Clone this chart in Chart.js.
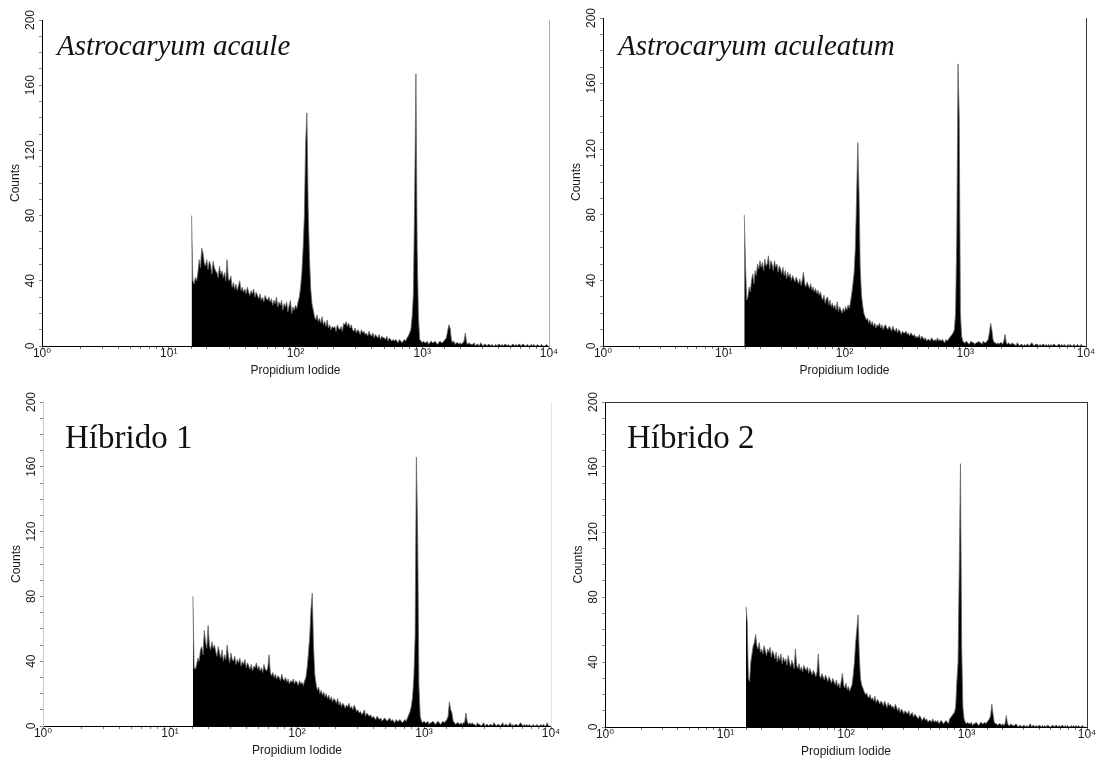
<!DOCTYPE html>
<html>
<head>
<meta charset="utf-8">
<script src="https://cdn.jsdelivr.net/npm/chart.js@4/dist/chart.umd.min.js"></script>
<style>
  html, body { margin: 0; padding: 0; background: #fff; }
  #page { position: relative; width: 1098px; height: 761px; overflow: hidden; }
  canvas { position: absolute; }
</style>
</head>
<body>
<div id="page">
  <canvas id="p1" width="560" height="380" style="left:0;top:0"></canvas>
  <canvas id="p2" width="543" height="380" style="left:555px;top:0"></canvas>
  <canvas id="p3" width="560" height="381" style="left:0;top:380px"></canvas>
  <canvas id="p4" width="543" height="381" style="left:555px;top:380px"></canvas>
</div>
<script>
// histogram channels: log10 position of first channel and channel width (in decades)
const channelLog0 = 1.10;
const channelLogStep = 0.01;

// counts per channel, one row = 0.1 decade (1.1, 1.2, ... 3.9)
const acauleCounts = [
  null,null,null,null,null,null,null,null,80,40,
  38,42,40,45,53,48,60,57,51,49,
  53,47,52,50,44,52,48,46,45,42,
  49,44,46,42,45,40,53,41,40,43,
  36,39,35,38,34,37,40,34,36,33,
  35,32,36,33,31,34,32,35,30,33,
  31,29,32,28,30,27,31,29,28,30,
  27,29,25,28,26,30,24,27,25,28,
  22,26,24,27,21,25,28,20,24,22,
  25,23,27,30,36,45,60,80,125,143,
  85,55,35,26,22,18,16,19,15,17,
  14,18,13,15,12,16,11,13,10,12,
  11,12,9,13,11,10,12,9,14,13,
  15,12,14,11,13,10,9,11,8,10,
  9,7,10,8,9,7,8,6,9,7,
  6,8,5,7,6,5,7,4,6,5,
  5,4,6,3,5,4,3,4,3,4,
  3,2,4,3,2,3,4,3,5,6,
  8,10,18,32,90,167,60,18,4,3,
  2,3,2,2,3,1,2,3,2,2,
  3,2,1,2,3,2,2,3,4,5,
  9,13,11,4,2,3,1,2,2,1,
  2,1,2,3,8,2,1,2,1,1,
  1,2,0,1,1,0,2,1,0,1,
  1,0,1,1,0,1,0,0,1,0,
  1,1,0,1,0,1,1,0,1,0,
  0,1,1,0,1,0,1,1,0,1,
  1,0,0,1,0,0,1,0,1,0,
  0,1,0,0,1,0,0,0,1,0
];

const aculeatumCounts = [
  null,null,null,null,null,null,null,80,50,28,
  30,36,33,40,44,38,46,43,50,47,
  52,48,51,46,53,49,50,55,47,52,
  50,46,52,48,50,45,49,47,44,48,
  43,46,41,45,42,44,40,43,41,39,
  42,40,38,41,37,40,45,38,36,39,
  37,35,38,34,36,33,35,32,34,31,
  33,30,28,31,26,29,30,25,28,24,
  26,23,25,22,27,21,24,22,20,23,
  21,24,22,25,23,27,32,38,45,60,
  90,124,95,48,32,25,20,18,16,17,
  14,16,13,15,12,14,11,13,12,14,
  11,13,10,12,13,11,10,12,11,9,
  12,10,9,11,8,10,9,7,9,8,
  8,9,7,8,6,8,7,6,7,5,
  6,5,7,4,6,5,4,5,3,4,
  4,3,5,4,3,4,3,5,3,4,
  3,4,3,2,4,3,4,5,6,7,
  8,10,20,67,172,140,20,6,3,2,
  2,3,2,1,2,3,2,2,1,2,
  2,3,2,2,1,3,2,2,3,4,
  8,14,10,4,2,2,1,2,1,2,
  2,1,3,7,2,1,2,1,1,2,
  1,1,0,2,1,0,1,1,0,1,
  0,1,1,0,1,2,1,0,1,1,
  1,0,1,0,1,1,0,1,0,1,
  0,1,0,1,1,0,0,1,1,0,
  1,0,1,0,0,1,0,1,0,0,
  1,0,0,1,0,0,1,0,0,0
];

const hibrido1Counts = [
  null,null,null,null,null,null,null,null,80,36,
  35,38,42,40,47,49,44,59,52,48,
  62,50,47,52,48,50,46,43,49,45,
  42,47,40,44,41,50,43,39,45,41,
  40,43,38,41,39,42,37,40,38,41,
  36,39,37,35,38,34,37,36,39,35,
  37,34,36,33,38,35,34,36,44,33,
  31,33,30,32,29,31,30,28,32,29,
  28,30,27,29,26,28,27,29,26,28,
  27,25,28,26,27,25,28,30,36,45,
  55,72,82,50,32,26,22,24,20,22,
  19,21,18,20,17,19,16,18,15,17,
  16,14,17,13,15,12,14,13,11,13,
  12,14,11,12,10,13,11,9,10,8,
  9,7,8,10,6,8,7,6,7,5,
  6,5,4,6,5,4,5,3,4,5,
  4,3,4,5,3,4,3,2,4,3,
  3,4,3,2,3,4,3,5,7,9,
  12,18,30,55,166,120,25,6,3,2,
  3,2,2,3,1,2,2,3,2,1,
  2,3,2,1,2,3,2,3,4,6,
  15,10,8,3,2,1,2,2,1,2,
  1,2,2,8,3,1,2,1,2,1,
  1,0,2,1,1,0,1,2,0,1,
  1,0,1,1,0,2,1,0,1,1,
  0,1,2,0,1,1,0,1,2,0,
  1,0,1,1,0,1,2,1,0,1,
  0,1,0,1,0,0,1,0,0,1,
  0,0,1,0,1,0,0,2,0,0
];

const hibrido2Counts = [
  null,null,null,null,null,null,null,74,65,30,
  28,40,45,50,52,57,50,48,52,46,
  48,45,50,47,44,48,46,49,43,47,
  45,42,46,40,44,41,45,39,43,40,
  42,38,44,40,37,41,39,36,48,38,
  36,39,35,37,34,38,36,35,37,33,
  36,34,32,35,33,31,34,45,32,30,
  33,31,29,32,30,28,31,29,27,30,
  28,26,29,25,27,24,28,33,26,24,
  27,23,25,22,24,26,32,40,52,60,
  69,45,30,26,24,22,20,21,19,18,
  20,17,18,16,19,15,17,16,14,16,
  15,13,16,14,12,15,13,14,12,13,
  11,14,12,10,12,9,11,10,8,10,
  9,8,10,7,8,9,6,8,7,6,
  5,7,6,4,5,6,4,5,3,4,
  4,3,5,3,4,3,4,2,3,4,
  3,2,3,4,3,2,5,6,7,8,
  9,12,28,40,100,162,50,12,5,3,
  2,3,2,2,3,1,2,2,3,2,
  1,2,3,2,2,3,2,3,4,5,
  7,14,8,3,2,2,1,2,2,1,
  2,1,2,7,2,1,1,2,1,1,
  1,2,1,0,1,1,0,1,1,0,
  1,0,1,2,0,1,1,0,1,0,
  1,1,0,1,0,1,0,1,1,0,
  0,1,1,0,1,1,0,1,0,1,
  1,0,1,0,1,0,0,1,0,1,
  0,1,0,1,0,0,1,0,0,0
];

const xTickLabels = ['10⁰', '10¹', '10²', '10³', '10⁴'];
const yTickLabels = [0, 40, 80, 120, 160, 200];
const xTitle = 'Propidium Iodide';
const yTitle = 'Counts';

const sans = '"Liberation Sans", Arial, "DejaVu Sans", sans-serif';
const ink = '#1a1a1a';

function toPoints(counts) {
  return counts.map((c, i) => ({ x: Math.pow(10, channelLog0 + i * channelLogStep), y: c }));
}

function titlePlugin(text, italic, size, dx, dy) {
  return {
    id: 'panelTitle',
    afterDraw(chart) {
      const { ctx, chartArea } = chart;
      ctx.save();
      ctx.font = (italic ? 'italic ' : '') + size + 'px "Liberation Serif", "Times New Roman", serif';
      ctx.fillStyle = '#111';
      ctx.textBaseline = 'alphabetic';
      ctx.textAlign = 'left';
      ctx.fillText(text, chartArea.left + dx, chartArea.top + dy);
      ctx.restore();
    }
  };
}

// frame = chart area inside the canvas, plus the look of the box edges
function makePanel(id, counts, title, italic, frame) {
  const canvas = document.getElementById(id);
  const W = canvas.width, H = canvas.height;
  const yAxisW = 42, xAxisH = 34;

  new Chart(canvas, {
    type: 'line',
    data: {
      datasets: [{
        data: toPoints(counts),
        xAxisID: 'x',
        yAxisID: 'y',
        fill: 'origin',
        backgroundColor: '#000',
        borderColor: '#6a6a6a',
        borderWidth: 0.8,
        pointRadius: 0,
        tension: 0,
        spanGaps: false
      }]
    },
    options: {
      responsive: false,
      animation: false,
      events: [],
      layout: {
        padding: {
          left: frame.left - yAxisW,
          top: frame.top,
          right: W - frame.right,
          bottom: H - frame.bottom - xAxisH
        }
      },
      plugins: { legend: { display: false }, tooltip: { enabled: false } },
      scales: {
        x: {
          type: 'logarithmic',
          position: 'bottom',
          min: 1,
          max: 10000,
          afterFit(s) { s.height = xAxisH; s.paddingLeft = 0; s.paddingRight = 0; },
          ticks: {
            autoSkip: false,
            maxRotation: 0,
            minRotation: 0,
            padding: -3,
            color: ink,
            font: { family: sans, size: 12 },
            callback(v) {
              const e = Math.log10(v), r = Math.round(e);
              return Math.abs(e - r) < 1e-6 ? xTickLabels[r] : '';
            }
          },
          grid: { drawOnChartArea: false, tickLength: 3, color: '#777' },
          border: { color: '#000', width: 1 },
          title: {
            display: true,
            text: xTitle,
            color: ink,
            font: { family: sans, size: 12 },
            padding: { top: 0, bottom: 2 }
          }
        },
        y: {
          type: 'linear',
          position: 'left',
          min: 0,
          max: 200,
          afterFit(s) { s.width = yAxisW; s.paddingTop = 0; s.paddingBottom = 0; },
          ticks: {
            stepSize: 10,
            autoSkip: false,
            minRotation: 90,
            maxRotation: 90,
            crossAlign: 'center',
            padding: -2,
            color: ink,
            font: { family: sans, size: 12 },
            callback(v) { return yTickLabels.includes(v) ? String(v) : ''; }
          },
          grid: { drawOnChartArea: false, tickLength: 3, color: '#888' },
          border: { color: frame.leftColor, width: 1, dash: frame.leftDash || [] },
          title: {
            display: true,
            text: yTitle,
            color: ink,
            font: { family: sans, size: 12 },
            padding: { top: 8, bottom: 0 }
          }
        },
        xTop: {
          type: 'linear',
          axis: 'x',
          position: 'top',
          display: true,
          afterFit(s) { s.height = 0; s.paddingLeft = 0; s.paddingRight = 0; },
          ticks: { display: false },
          grid: { display: false, drawTicks: false },
          border: { display: !!frame.topColor, color: frame.topColor || '#000', width: 1 }
        },
        yRight: {
          type: 'linear',
          axis: 'y',
          position: 'right',
          display: true,
          afterFit(s) { s.width = 0; s.paddingTop = 0; s.paddingBottom = 0; },
          ticks: { display: false },
          grid: { display: false, drawTicks: false },
          border: { display: !!frame.rightColor, color: frame.rightColor || '#000', width: 1 }
        }
      }
    },
    plugins: [titlePlugin(title, italic, frame.titleSize, frame.titleDx, frame.titleDy)]
  });
}

makePanel('p1', acauleCounts, 'Astrocaryum acaule', true,
  { left: 42, top: 20, right: 549, bottom: 346, leftColor: '#000', rightColor: '#b0b0b0',
    titleSize: 29, titleDx: 15, titleDy: 35 });
makePanel('p2', aculeatumCounts, 'Astrocaryum aculeatum', true,
  { left: 48, top: 18, right: 531, bottom: 346, leftColor: '#000', rightColor: '#333',
    titleSize: 29, titleDx: 15, titleDy: 37 });
makePanel('p3', hibrido1Counts, 'Híbrido 1', false,
  { left: 43, top: 22, right: 551, bottom: 346, leftColor: '#c8c8c8', leftDash: [1, 3],
    rightColor: '#e4e4e4', titleSize: 33, titleDx: 22, titleDy: 46 });
makePanel('p4', hibrido2Counts, 'Híbrido 2', false,
  { left: 50, top: 22, right: 532, bottom: 347, leftColor: '#000', rightColor: '#333',
    topColor: '#333', titleSize: 33, titleDx: 22, titleDy: 46 });
</script>
</body>
</html>
